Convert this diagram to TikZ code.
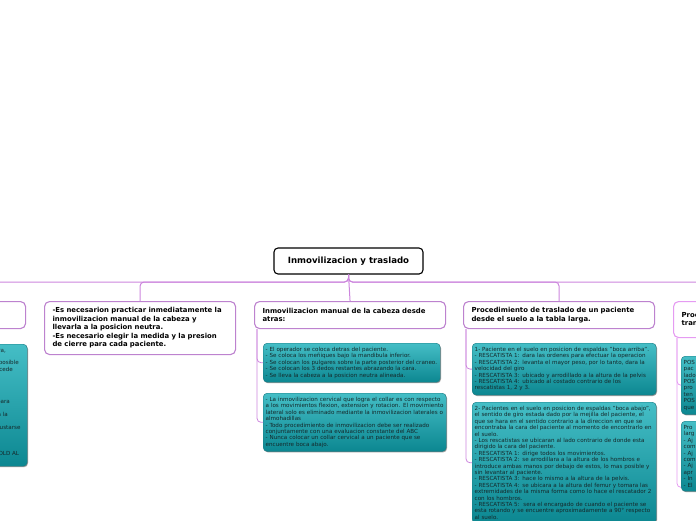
\documentclass[tikz,border=0pt]{standalone}
\usepackage{fontspec}
\setmainfont{DejaVu Sans}
\usetikzlibrary{shadows,calc}
\definecolor{lineP}{HTML}{CC85DD}
\definecolor{boxP}{HTML}{BD82CF}
\definecolor{pinkP}{HTML}{E59BF2}
\definecolor{tealT}{HTML}{45BEC6}
\definecolor{tealB}{HTML}{0C8791}
\definecolor{tealD}{HTML}{1B7880}
\definecolor{tealTxt}{HTML}{15282A}
\begin{document}
\begin{tikzpicture}[x=1pt,y=-1pt,
  rootbox/.style={draw=black, line width=1.1pt, rounded corners=4pt, fill=white,
    minimum width=149pt, minimum height=26pt, inner sep=0pt,
    font=\bfseries\fontsize{8.6}{10}\selectfont},
  topicbox/.style={draw=boxP, line width=1.1pt, rounded corners=5pt, fill=white,
    anchor=north west, align=left, inner xsep=8pt, inner ysep=0pt,
    minimum width=191pt, text width=175pt,
    font=\bfseries\fontsize{6.9}{8.5}\selectfont},
  tealbox/.style={draw=tealD, line width=0.4pt, rounded corners=4pt,
    top color=tealT, bottom color=tealB, anchor=north west, align=left,
    inner xsep=2.5pt, inner ysep=4pt, text=tealTxt,
    font=\fontsize{5.6}{6.4}\selectfont,
    drop shadow={shadow xshift=0.8pt, shadow yshift=-1pt, opacity=0.55, fill=black!70}},
  frag/.style={inner sep=0pt, anchor=base east, text=tealTxt, font=\fontsize{5.6}{6.4}\selectfont},
  conn/.style={draw=lineP, line width=1pt, rounded corners=4pt},
  pconn/.style={draw=pinkP, line width=0.8pt, rounded corners=4pt}
]
\useasboundingbox (0,0) rectangle (696,520);
\clip (0,0) rectangle (696,520);

% root
\node[rootbox] (root) at (348.5,261) {Inmovilizacion y traslado};

% main topics
\node[topicbox, minimum height=27pt] (b1) at (-166,301) {};
\node[topicbox, minimum height=53pt] (b2) at (44,301) {-Es necesarion practicar inmediatamente la\\inmovilizacion manual de la cabeza y\\llevarla a la posicion neutra.\\-Es necesario elegir la medida y la presion\\de cierre para cada paciente.};
\node[topicbox, minimum height=27pt] (b3) at (254,301) {Inmovilizacion manual de la cabeza desde\\atras:};
\node[topicbox, minimum height=27pt] (b4) at (463,301) {Procedimiento de traslado de un paciente\\desde el suelo a la tabla larga.};
\node[topicbox, draw=pinkP, minimum height=36pt] (b5) at (673,301) {Procedimiento de\\transporte\\[6pt]};

% connectors from root
\draw[conn] (root.south) -- (348.5,282) -| (b1.north);
\draw[conn] (root.south) -- (348.5,282) -| (b2.north);
\draw[conn] (root.south) -- (b3.north);
\draw[conn] (root.south) -- (348.5,282) -| (b4.north);
\draw[conn] (root.south) -- (348.5,282) -| (b5.north);

% left branch child (cut off)
\node[tealbox, minimum width=177pt, text width=172pt, minimum height=122pt] (c1) at (-150,344) {};
\node[frag] (f1) at (6,352.5) {ra,};
\node[frag] (f2) at (19,364.9) {posible};
\node[frag] (f3) at (13,371.3) {cede};
\node[frag] (f4) at (10,403.3) {para};
\node[frag] (f5) at (8,416.3) {a la};
\node[frag] (f6) at (20.7,429.3) {ustarse};
\node[frag] (f7) at (19.3,455.5) {OLD AL};
\draw[conn, line width=0.8pt] ($(b1.south west)+(3,0)$) |- (c1.west);

% branch 3 children
\node[tealbox, minimum width=177pt, text width=172pt, minimum height=38pt] (c3a) at (263,343) {- El operador se coloca detras del paciente.\\- Se coloca los meñiques bajo la mandibula inferior.\\- Se colocan los pulgares sobre la parte posterior del craneo.\\- Se colocan los 3 dedos restantes abrazando la cara.\\- Se lleva la cabeza a la posicion neutra alineada.};
\node[tealbox, minimum width=183pt, text width=178pt, minimum height=58pt] (c3b) at (263,393) {- La inmovilizacion cervical que logra el collar es con respecto\\a los movimientos flexion, extension y rotacion. El movimiento\\lateral solo es eliminado mediante la inmovilizacion laterales o\\almohadillas\\- Todo procedimiento de inmovilizacion debe ser realizado\\conjuntamente con una evaluacion constante del ABC\\- Nunca colocar un collar cervical a un paciente que se\\encuentre boca abajo.};
\draw[conn, line width=0.8pt] ($(b3.south west)+(3,0)$) |- (c3a.west);
\draw[conn, line width=0.8pt] ($(b3.south west)+(3,0)$) |- (c3b.west);

% branch 4 children
\node[tealbox, minimum width=184pt, text width=179pt, minimum height=51pt] (c4a) at (472,343) {1- Paciente en el suelo en posicion de espaldas "boca arriba".\\- RESCATISTA 1: dara las ordenes para efectuar la operacion\\- RESCATISTA 2: levanta el mayor peso, por lo tanto, dara la\\velocidad del giro\\- RESCATISTA 3: ubicado y arrodillado a la altura de la pelvis\\- RESCATISTA 4: ubicado al costado contrario de los\\rescatistas 1, 2 y 3.};
\node[tealbox, minimum width=184pt, text width=179pt] (c4b) at (472,402) {2- Pacientes en el suelo en posicion de espaldas "boca abajo",\\el sentido de giro estada dado por la mejilla del paciente, el\\que se hara en el sentido contrario a la direccion en que se\\encontraba la cara del paciente al momento de encontrarlo en\\el suelo.\\- Los rescatistas se ubicaran al lado contrario de donde esta\\dirigido la cara del paciente.\\- RESCATISTA 1: dirige todos los movimientos.\\- RESCATISTA 2: se arrodillara a la altura de los hombros e\\introduce ambas manos por debajo de estos, lo mas posible y\\sin levantar al paciente.\\- RESCATISTA 3: hace lo mismo a la altura de la pelvis.\\- RESCATISTA 4: se ubicara a la altura del femur y tomara las\\extremidades de la misma forma como lo hace el rescatador 2\\con los hombros.\\- RESCATISTA 5:\ \ sera el encargado de cuando el paciente se\\esta rotando y se encuentre aproximadamente a 90° respecto\\al suelo.};
\draw[conn, line width=0.8pt] ($(b4.south west)+(3,0)$) |- (c4a.west);
\draw[conn, line width=0.8pt] ($(b4.south west)+(3,0)$) |- (c4b.west);

% branch 5 children (cut off)
\node[tealbox, minimum width=184pt, text width=179pt, minimum height=56pt] (c5a) at (681,356) {POS\\pac\\lado\\POS\\pro\\ten\\POS\\que};
\node[tealbox, minimum width=184pt, text width=179pt, minimum height=70pt] (c5b) at (681,421) {Pro\\larg\\- Aj\\com\\- Aj\\com\\- Aj\\apr\\- In\\- El};
\draw[pconn] ($(b5.south west)+(4,0)$) |- (c5a.west);
\draw[pconn] ($(b5.south west)+(4,0)$) |- ($(c5b.south west)+(0,-4)$);
\end{tikzpicture}
\end{document}
